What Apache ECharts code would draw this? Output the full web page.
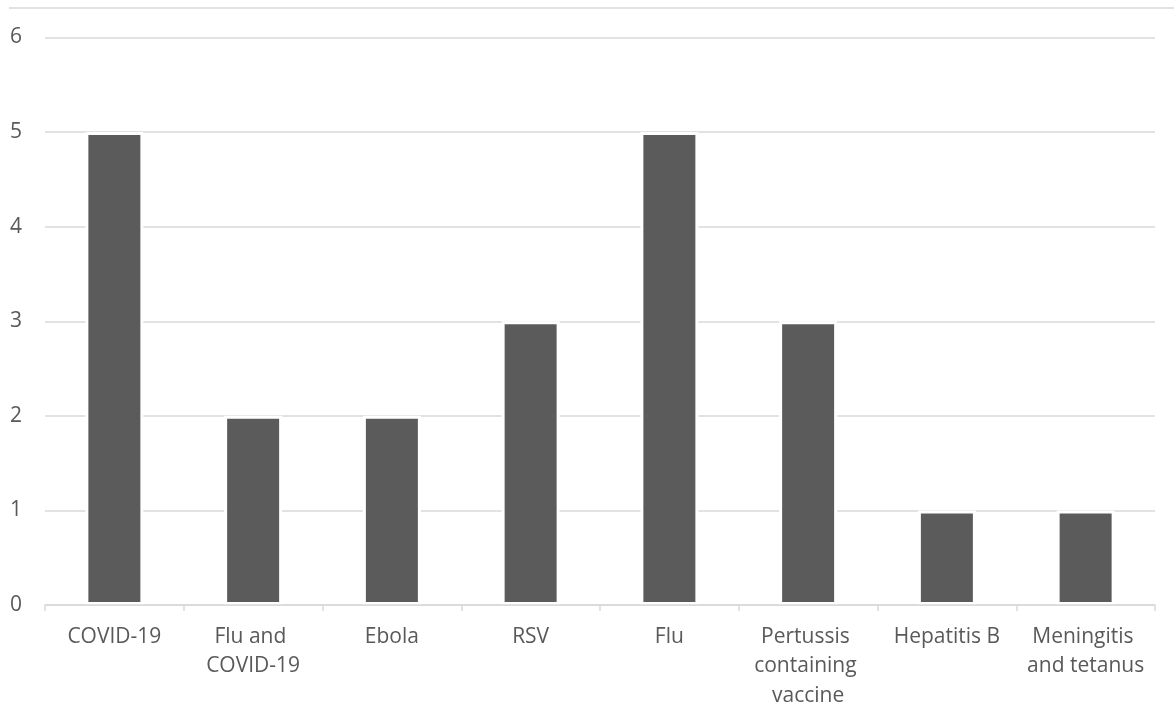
<!DOCTYPE html>
<html>
<head>
<meta charset="utf-8">
<script src="https://cdn.jsdelivr.net/npm/echarts@6/dist/echarts.min.js"></script>
<style>
    html, body { margin: 0; padding: 0; background: #fff; }
    #chart { width: 1174px; height: 726px; }
</style>
</head>
<body>
<div id="chart"></div>
<script>
// data
const categories = ['COVID-19', 'Flu and COVID-19', 'Ebola', 'RSV', 'Flu',
    'Pertussis containing vaccine', 'Hepatitis B', 'Meningitis and tetanus']
const counts = [5, 2, 2, 3, 5, 3, 1, 1]
const yTicks = [0, 1, 2, 3, 4, 5, 6]

const textColor = '#595959'
const lineColor = '#d9d9d9'
const fontFamily = '"Open Sans", "Noto Sans", sans-serif'

const myChart = echarts.init(document.getElementById('chart'))

const option = {
    backgroundColor: '#fff',
    animation: false,
    // top border line of the chart area
    graphic: [{
        type: 'line',
        shape: { x1: 9, y1: 8, x2: 1174, y2: 8 },
        style: { stroke: lineColor, lineWidth: 1.5 }
    }],
    grid: {
        left: 45,
        right: 19,
        top: 37.5,
        bottom: 121,
        containLabel: false,
        outerBoundsMode: 'none'
    },
    xAxis: {
        type: 'category',
        data: categories,
        z: 5,
        axisLine: { show: true, lineStyle: { color: lineColor, width: 1.5 } },
        axisTick: { show: true, length: 6, lineStyle: { color: lineColor, width: 1.5 } },
        axisLabel: {
            interval: 0,
            margin: 17,
            color: textColor,
            fontFamily: fontFamily,
            fontSize: 21,
            lineHeight: 29.5,
            width: 130,
            overflow: 'break'
        }
    },
    yAxis: {
        type: 'value',
        min: yTicks[0],
        max: yTicks[yTicks.length - 1],
        interval: 1,
        axisLine: { show: false },
        axisTick: { show: false },
        splitLine: { show: true, lineStyle: { color: lineColor, width: 1.5 } },
        axisLabel: {
            margin: 23,
            color: textColor,
            fontFamily: fontFamily,
            fontSize: 21
        }
    },
    series: [{
        type: 'bar',
        data: counts,
        barWidth: 58,
        itemStyle: {
            color: '#5b5b5b',
            borderColor: '#ffffff',
            borderWidth: 3
        }
    }]
}

myChart.setOption(option)
window.onresize = () => myChart.resize()
</script>
</body>
</html>
